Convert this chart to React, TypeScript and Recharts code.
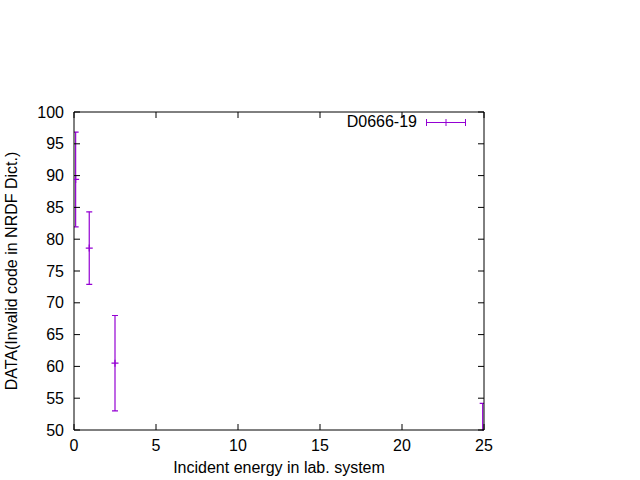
import * as R from "recharts";
import { Customized, ErrorBar, Legend, Scatter, ScatterChart, XAxis, YAxis } from "recharts";

const energy = [0.1, 0.93, 2.5, 24.92];
const value = [89.4, 78.6, 60.5, 48.0];
const error = [7.45, 5.7, 7.5, 6.2];

const xTicks = [0, 5, 10, 15, 20, 25];
const yTicks = [50, 55, 60, 65, 70, 75, 80, 85, 90, 95, 100];

const PURPLE = "#9400d3";
const FONT = "'Liberation Sans', Arial, sans-serif";
const TICK = 6;
const GAP = 10;

const data = energy.map((e, i) => ({ e, v: value[i], err: error[i] }));

// clip region for the error bars (recharts doesn't clip them itself)
function ClipDef() {
  const hook = (R as any).usePlotArea;
  const area = hook ? hook() : null;
  const a = area ?? { x: 74, y: 112, width: 410, height: 318 };
  return (
    <defs>
      <clipPath id="plotClip">
        <rect x={a.x} y={a.y} width={a.width} height={a.height + 0.5} />
      </clipPath>
    </defs>
  );
}

// gnuplot style: tick marks point into the plot on all four sides
function BottomTick(p: any) {
  const { x, y, payload } = p;
  const y0 = y - GAP;
  return (
    <g>
      <line x1={x} x2={x} y1={y0} y2={y0 - TICK} stroke="#000" strokeWidth={1} />
      <text x={x} y={y} dy="0.71em" textAnchor="middle" fill="#000" fontSize={16} fontFamily={FONT}>
        {payload.value}
      </text>
    </g>
  );
}

function LeftTick(p: any) {
  const { x, y, payload } = p;
  const x0 = x + GAP;
  return (
    <g>
      <line x1={x0} x2={x0 + TICK} y1={y} y2={y} stroke="#000" strokeWidth={1} />
      <text x={x} y={y} dy="0.355em" textAnchor="end" fill="#000" fontSize={16} fontFamily={FONT}>
        {payload.value}
      </text>
    </g>
  );
}

function TopTick(p: any) {
  const { x, y } = p;
  return <line x1={x} x2={x} y1={y} y2={y + TICK} stroke="#000" strokeWidth={1} />;
}

function RightTick(p: any) {
  const { x, y } = p;
  return <line x1={x} x2={x - TICK} y1={y} y2={y} stroke="#000" strokeWidth={1} />;
}

function Plus(props: any) {
  const { cx, cy } = props;
  if (cx == null || cy == null) return <g />;
  return (
    <path
      d={`M${cx - 3.5},${cy}H${cx + 3.5}M${cx},${cy - 3.5}V${cy + 3.5}`}
      stroke={PURPLE}
      strokeWidth={1.2}
      fill="none"
      clipPath="url(#plotClip)"
    />
  );
}

const Nothing = () => <g />;

function KeyEntry() {
  return (
    <div style={{ display: "flex", alignItems: "center", fontFamily: FONT, fontSize: 16, color: "#000" }}>
      <span style={{ width: 100, textAlign: "right", marginRight: 8 }}>D0666-19</span>
      <svg width={42} height={12}>
        <path d="M1,6.5H41M1.5,3V10M40.5,3V10M21,3V10" stroke={PURPLE} strokeWidth={1} fill="none" />
      </svg>
    </div>
  );
}

export default function App() {
  return (
    <div style={{ position: "absolute", left: 0, top: 0, fontFamily: FONT }}>
      <ScatterChart width={640} height={480} margin={{ top: 0, right: 0, bottom: 0, left: 0 }}>
        <Customized component={<ClipDef />} />
        <XAxis
          xAxisId="b"
          type="number"
          dataKey="e"
          domain={[0, 25]}
          ticks={xTicks}
          allowDataOverflow
          height={50}
          tickSize={0}
          tickMargin={GAP}
          tickLine={false}
          tick={<BottomTick />}
          stroke="#000"
          label={{
            value: "Incident energy in lab. system",
            position: "insideBottom",
            offset: 7,
            fill: "#000",
            fontSize: 16,
            fontFamily: FONT,
          }}
        />
        <XAxis
          xAxisId="t"
          orientation="top"
          type="number"
          dataKey="e"
          domain={[0, 25]}
          ticks={xTicks}
          allowDataOverflow
          height={112}
          tickSize={0}
          tickMargin={0}
          tickLine={false}
          tick={<TopTick />}
          stroke="#000"
        />
        <YAxis
          yAxisId="l"
          type="number"
          dataKey="v"
          domain={[50, 100]}
          ticks={yTicks}
          allowDataOverflow
          width={74}
          tickSize={0}
          tickMargin={GAP}
          tickLine={false}
          tick={<LeftTick />}
          stroke="#000"
          label={{
            value: "DATA(Invalid code in NRDF Dict.)",
            angle: -90,
            position: "insideLeft",
            offset: 11,
            fill: "#000",
            fontSize: 16,
            fontFamily: FONT,
            style: { textAnchor: "middle" },
          }}
        />
        <YAxis
          yAxisId="r"
          orientation="right"
          type="number"
          dataKey="v"
          domain={[50, 100]}
          ticks={yTicks}
          allowDataOverflow
          width={156}
          tickSize={0}
          tickMargin={0}
          tickLine={false}
          tick={<RightTick />}
          stroke="#000"
        />
        <Legend
          layout="vertical"
          align="center"
          verticalAlign="middle"
          wrapperStyle={{ position: "absolute", left: 317, top: 113, width: 170, height: 20 }}
          content={() => <KeyEntry />}
        />
        {/* invisible series so the mirrored top/right axes get a scale */}
        <Scatter
          data={data}
          xAxisId="t"
          yAxisId="r"
          shape={<Nothing />}
          legendType="none"
          isAnimationActive={false}
        />
        <Scatter
          data={data}
          xAxisId="b"
          yAxisId="l"
          shape={<Plus />}
          fill={PURPLE}
          isAnimationActive={false}
        >
          <ErrorBar
            dataKey="err"
            direction="y"
            width={3}
            stroke={PURPLE}
            strokeWidth={1.2}
            clipPath="url(#plotClip)"
            isAnimationActive={false}
          />
        </Scatter>
      </ScatterChart>
    </div>
  );
}
